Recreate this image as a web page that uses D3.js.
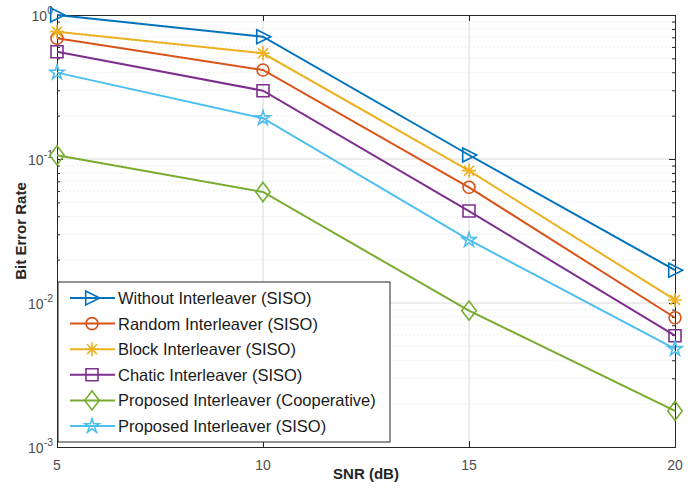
<!DOCTYPE html>
<html>
<head>
<meta charset="utf-8">
<script src="https://cdn.jsdelivr.net/npm/d3@7"></script>
<style>
  body { margin: 0; background: #fff; }
  svg { display: block; font-family: "Liberation Sans", Arial, sans-serif; }
</style>
</head>
<body>
<svg id="chart" width="695" height="492"></svg>
<script>
// SNR points (dB)
const snr = [5, 10, 15, 20];

// Bit error rate for each scheme
const seriesNames = [
  "Without Interleaver (SISO)",
  "Random Interleaver (SISO)",
  "Block Interleaver (SISO)",
  "Chatic Interleaver (SISO)",
  "Proposed Interleaver (Cooperative)",
  "Proposed Interleaver (SISO)"
];
const berWithout   = [1.0,   0.707, 0.1066, 0.0169];
const berRandom    = [0.689, 0.415, 0.0636, 0.0079];
const berBlock     = [0.766, 0.542, 0.083,  0.0105];
const berChaotic   = [0.556, 0.298, 0.0435, 0.00593];
const berCoop      = [0.106, 0.059, 0.00885, 0.00178];
const berProposed  = [0.398, 0.192, 0.0274, 0.0048];

const seriesValues = [berWithout, berRandom, berBlock, berChaotic, berCoop, berProposed];
const seriesColors = ["#0072BD", "#D95319", "#EDB120", "#7E2F8E", "#77AC30", "#4DBEEE"];
const seriesMarkers = ["triangleRight", "circle", "asterisk", "square", "diamond", "pentagram"];

const xTicks = [5, 10, 15, 20];
const yDecades = [-3, -2, -1, 0];

const svg = d3.select("#chart");
const m = { left: 57, right: 20, top: 15, bottom: 45 };
const W = 695, H = 492;
const x = d3.scaleLinear().domain([5, 20]).range([m.left, W - m.right]);
const y = d3.scaleLog().domain([1e-3, 1]).range([H - m.bottom, m.top]);

const gridColor = "#dadada";
const axisColor = "#262626";
const labelColor = "#4d4d4d";

// minor log positions
const minorVals = [];
for (let d = -3; d < 0; d++) for (let k = 2; k <= 9; k++) minorVals.push(k * Math.pow(10, d));

// minor horizontal grid (dotted)
svg.append("g").selectAll("line").data(minorVals).join("line")
  .attr("x1", x(5)).attr("x2", x(20))
  .attr("y1", d => y(d)).attr("y2", d => y(d))
  .attr("stroke", "#dcdcdc").attr("stroke-width", 1).attr("stroke-dasharray", "1,3");

// major grid
svg.append("g").selectAll("line").data(yDecades.slice(1, 3)).join("line")
  .attr("x1", x(5)).attr("x2", x(20))
  .attr("y1", d => y(Math.pow(10, d))).attr("y2", d => y(Math.pow(10, d)))
  .attr("stroke", gridColor).attr("stroke-width", 1);
svg.append("g").selectAll("line").data(xTicks.slice(1, 3)).join("line")
  .attr("x1", d => x(d)).attr("x2", d => x(d))
  .attr("y1", y(1e-3)).attr("y2", y(1))
  .attr("stroke", gridColor).attr("stroke-width", 1);

// axes (ticks inward)
const xAxis = d3.axisBottom(x).tickValues(xTicks).tickSize(-6).tickFormat("");
const xAxisTop = d3.axisTop(x).tickValues(xTicks).tickSize(-6).tickFormat("");
const yMajor = yDecades.map(d => Math.pow(10, d));
const yAxis = d3.axisLeft(y).tickValues(yMajor).tickSize(-6).tickFormat("");
const yAxisR = d3.axisRight(y).tickValues(yMajor).tickSize(-6).tickFormat("");
const yMinor = d3.axisLeft(y).tickValues(minorVals).tickSize(-3).tickFormat("");
const yMinorR = d3.axisRight(y).tickValues(minorVals).tickSize(-3).tickFormat("");

function styleAxis(g) {
  g.select(".domain").attr("stroke", axisColor).attr("stroke-width", 1);
  g.selectAll(".tick line").attr("stroke", axisColor);
}
svg.append("g").attr("transform", `translate(0,${y(1e-3)})`).call(xAxis).call(styleAxis);
svg.append("g").attr("transform", `translate(0,${y(1)})`).call(xAxisTop).call(styleAxis);
svg.append("g").attr("transform", `translate(${x(5)},0)`).call(yAxis).call(styleAxis);
svg.append("g").attr("transform", `translate(${x(20)},0)`).call(yAxisR).call(styleAxis);
svg.append("g").attr("transform", `translate(${x(5)},0)`).call(yMinor).call(styleAxis);
svg.append("g").attr("transform", `translate(${x(20)},0)`).call(yMinorR).call(styleAxis);

// tick labels
svg.append("g").selectAll("text").data(xTicks).join("text")
  .attr("x", d => x(d)).attr("y", y(1e-3) + 23)
  .attr("text-anchor", "middle").attr("font-size", 14).attr("fill", labelColor)
  .text(d => d);
const yl = svg.append("g").selectAll("text").data(yDecades).join("text")
  .attr("x", x(5) - 4).attr("y", d => y(Math.pow(10, d)) + 6)
  .attr("text-anchor", "end").attr("font-size", 14).attr("fill", labelColor);
yl.append("tspan").text("10");
yl.append("tspan").attr("dy", -7).attr("font-size", 10.5).text(d => d);

// axis titles
svg.append("text").attr("x", (x(5) + x(20)) / 2).attr("y", 479)
  .attr("text-anchor", "middle").attr("font-size", 15).attr("font-weight", "bold")
  .attr("fill", "#262626").text("SNR (dB)");
svg.append("text").attr("transform", `translate(26,${(y(1) + y(1e-3)) / 2}) rotate(-90)`)
  .attr("text-anchor", "middle").attr("font-size", 15).attr("font-weight", "bold")
  .attr("fill", "#262626").text("Bit Error Rate");

// marker drawing
const sym = {
  triangleRight: s => `M${-s * 0.45},${-s * 0.5}L${s * 0.55},0L${-s * 0.45},${s * 0.5}Z`,
  square: s => `M${-s / 2},${-s / 2}h${s}v${s}h${-s}Z`,
  diamond: s => `M0,${-s * 0.6}L${s * 0.45},0L0,${s * 0.6}L${-s * 0.45},0Z`,
  asterisk: s => {
    let p = ""; const r = s / 2;
    for (let i = 0; i < 4; i++) {
      const a = i * Math.PI / 4;
      p += `M${-r * Math.cos(a)},${-r * Math.sin(a)}L${r * Math.cos(a)},${r * Math.sin(a)}`;
    }
    return p;
  },
  pentagram: s => {
    const R = s / 2, r = R * 0.38; let p = "";
    for (let i = 0; i < 10; i++) {
      const rr = i % 2 ? r : R, a = -Math.PI / 2 + i * Math.PI / 5;
      p += (i ? "L" : "M") + (rr * Math.cos(a)).toFixed(2) + "," + (rr * Math.sin(a)).toFixed(2);
    }
    return p + "Z";
  }
};
function drawMarker(g, type, color) {
  if (type === "circle") {
    g.append("circle").attr("r", 6).attr("fill", "none").attr("stroke", color).attr("stroke-width", 1.6);
  } else {
    const size = { triangleRight: 14, square: 12, diamond: 16, asterisk: 14, pentagram: 15 }[type];
    g.append("path").attr("d", sym[type](size)).attr("fill", "none")
      .attr("stroke", color).attr("stroke-width", 1.6);
  }
}

const line = d3.line().x((d, i) => x(snr[i])).y(d => y(d));

seriesValues.forEach((vals, si) => {
  const g = svg.append("g");
  g.append("path").datum(vals).attr("d", line).attr("fill", "none")
    .attr("stroke", seriesColors[si]).attr("stroke-width", 2);
  vals.forEach((v, i) => {
    const mg = g.append("g").attr("transform", `translate(${x(snr[i])},${y(v)})`);
    drawMarker(mg, seriesMarkers[si], seriesColors[si]);
  });
});

// legend
const lg = svg.append("g").attr("transform", "translate(58,282)");
lg.append("rect").attr("width", 332).attr("height", 160)
  .attr("fill", "#fff").attr("stroke", "#262626").attr("stroke-width", 1);
seriesNames.forEach((name, i) => {
  const cy = 16 + i * 25.6;
  const e = lg.append("g").attr("transform", `translate(0,${cy})`);
  e.append("line").attr("x1", 12).attr("x2", 57).attr("stroke", seriesColors[i]).attr("stroke-width", 2);
  const mg = e.append("g").attr("transform", "translate(34,0)");
  drawMarker(mg, seriesMarkers[i], seriesColors[i]);
  e.append("text").attr("x", 60).attr("y", 6).attr("font-size", 16.5).attr("fill", "#1a1a1a").text(name);
});
</script>
</body>
</html>
